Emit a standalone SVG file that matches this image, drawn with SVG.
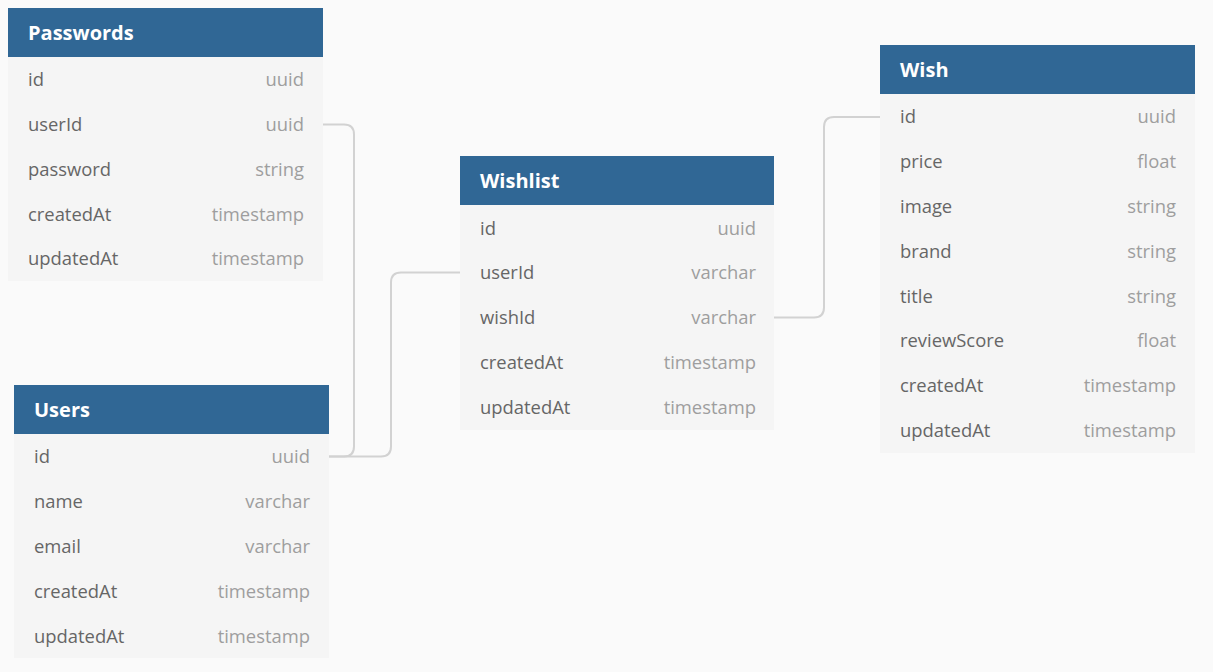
<svg xmlns="http://www.w3.org/2000/svg" width="1213" height="672" viewBox="0 0 1213 672">
<style>
.hdr{fill:#306795}
.body{fill:#f5f5f5}
.title{font-family:"Open Sans","Noto Sans",sans-serif;font-weight:bold;font-size:20px;fill:#ffffff}
.nm{font-family:"Open Sans","Noto Sans",sans-serif;font-size:18.4px;fill:#666666}
.tp{font-family:"Open Sans","Noto Sans",sans-serif;font-size:18.4px;fill:#9e9e9e;text-anchor:end}
.conn{fill:none;stroke:#d2d2d2;stroke-width:2}
</style>
<rect width="1213" height="672" fill="#fafafa"/>
<g id="connectors">
<path class="conn" d="M323,124.5 H344 Q354,124.5 354,134.5 V446.5 Q354,456.5 344,456.5 H329"/>
<path class="conn" d="M329,456.5 H381 Q391,456.5 391,446.5 V282.5 Q391,272.5 401,272.5 H460"/>
<path class="conn" d="M774,317.5 H814 Q824,317.5 824,307.5 V127 Q824,117 834,117 H880"/>
</g>
<g id="passwords">
<rect class="body" x="8" y="57" width="315" height="224"/>
<rect class="hdr" x="8" y="8" width="315" height="49"/>
<text class="title" x="28" y="40">Passwords</text>
<text class="nm" x="28" y="86">id</text><text class="tp" x="304" y="86">uuid</text>
<text class="nm" x="28" y="131">userId</text><text class="tp" x="304" y="131">uuid</text>
<text class="nm" x="28" y="176">password</text><text class="tp" x="304" y="176">string</text>
<text class="nm" x="28" y="221">createdAt</text><text class="tp" x="304" y="221">timestamp</text>
<text class="nm" x="28" y="265">updatedAt</text><text class="tp" x="304" y="265">timestamp</text>
</g>
<g id="users">
<rect class="body" x="14" y="434" width="315" height="224"/>
<rect class="hdr" x="14" y="385" width="315" height="49"/>
<text class="title" x="34" y="417">Users</text>
<text class="nm" x="34" y="463">id</text><text class="tp" x="310" y="463">uuid</text>
<text class="nm" x="34" y="508">name</text><text class="tp" x="310" y="508">varchar</text>
<text class="nm" x="34" y="553">email</text><text class="tp" x="310" y="553">varchar</text>
<text class="nm" x="34" y="598">createdAt</text><text class="tp" x="310" y="598">timestamp</text>
<text class="nm" x="34" y="643">updatedAt</text><text class="tp" x="310" y="643">timestamp</text>
</g>
<g id="wishlist">
<rect class="body" x="460" y="205" width="314" height="225"/>
<rect class="hdr" x="460" y="156" width="314" height="49"/>
<text class="title" x="480" y="188">Wishlist</text>
<text class="nm" x="480" y="235">id</text><text class="tp" x="756" y="235">uuid</text>
<text class="nm" x="480" y="279">userId</text><text class="tp" x="756" y="279">varchar</text>
<text class="nm" x="480" y="324">wishId</text><text class="tp" x="756" y="324">varchar</text>
<text class="nm" x="480" y="369">createdAt</text><text class="tp" x="756" y="369">timestamp</text>
<text class="nm" x="480" y="414">updatedAt</text><text class="tp" x="756" y="414">timestamp</text>
</g>
<g id="wish">
<rect class="body" x="880" y="94" width="315" height="359"/>
<rect class="hdr" x="880" y="45" width="315" height="49"/>
<text class="title" x="900" y="77">Wish</text>
<text class="nm" x="900" y="123">id</text><text class="tp" x="1176" y="123">uuid</text>
<text class="nm" x="900" y="168">price</text><text class="tp" x="1176" y="168">float</text>
<text class="nm" x="900" y="213">image</text><text class="tp" x="1176" y="213">string</text>
<text class="nm" x="900" y="258">brand</text><text class="tp" x="1176" y="258">string</text>
<text class="nm" x="900" y="303">title</text><text class="tp" x="1176" y="303">string</text>
<text class="nm" x="900" y="347">reviewScore</text><text class="tp" x="1176" y="347">float</text>
<text class="nm" x="900" y="392">createdAt</text><text class="tp" x="1176" y="392">timestamp</text>
<text class="nm" x="900" y="437">updatedAt</text><text class="tp" x="1176" y="437">timestamp</text>
</g>
</svg>
